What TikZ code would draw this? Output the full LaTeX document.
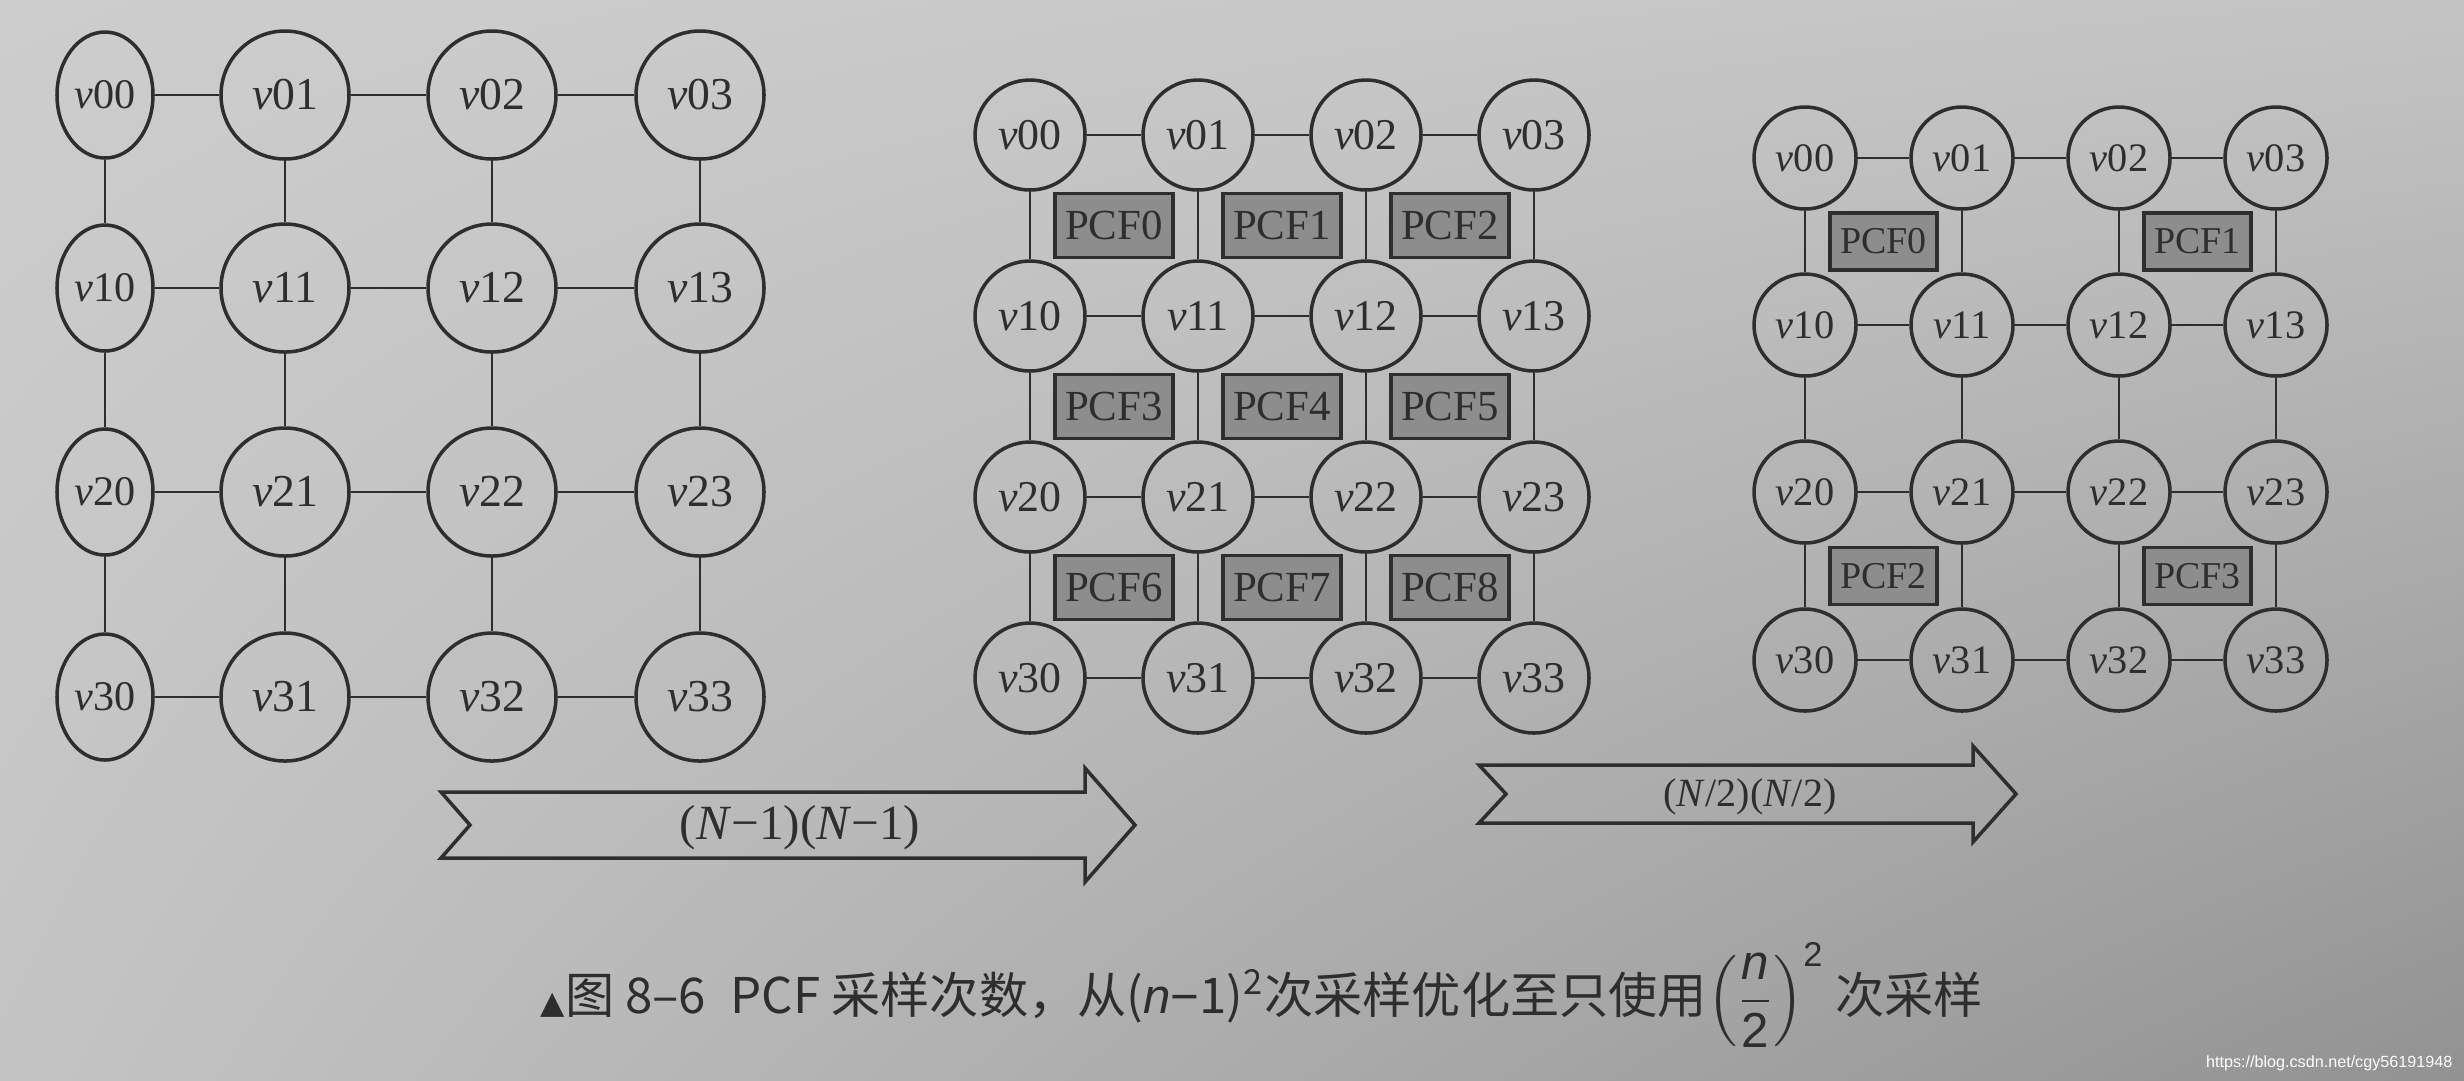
\documentclass[tikz,border=0pt]{standalone}
\usepackage{amsmath}
\usepackage{fontspec}
\setmainfont{Liberation Serif}
\newfontfamily\cjk{Noto Sans CJK SC}
\newfontfamily\lsans{Liberation Sans}
\newfontfamily\symf{DejaVu Sans}
\usepackage{tikz}
\usetikzlibrary{shapes.geometric,calc,shadings}
\definecolor{ink}{HTML}{2E2E2E}
\definecolor{pcfgray}{HTML}{8D8D8D}
\definecolor{paperul}{HTML}{CDCDCD}
\definecolor{paperur}{HTML}{C4C4C4}
\definecolor{paperll}{HTML}{C4C4C4}
\definecolor{paperlr}{HTML}{929292}

\begin{document}
\begin{tikzpicture}[x=0.1mm,y=-0.1mm,
	link/.style={ink,line width=0.8pt},
	vtxa/.style={circle,draw=ink,line width=1pt,inner sep=0pt,minimum size=12.8mm,text=ink,font=\fontsize{13pt}{15pt}\selectfont},
	vtxe/.style={ellipse,draw=ink,line width=1pt,inner sep=0pt,minimum width=9.6mm,minimum height=12.6mm,text=ink,font=\fontsize{12pt}{14pt}\selectfont},
	vtxb/.style={circle,draw=ink,line width=1pt,inner sep=0pt,minimum size=11mm,text=ink,font=\fontsize{12.5pt}{14pt}\selectfont},
	vtxc/.style={circle,draw=ink,line width=1pt,inner sep=0pt,minimum size=10.2mm,text=ink,font=\fontsize{11.5pt}{13pt}\selectfont},
	pcfb/.style={rectangle,draw=ink,fill=pcfgray,line width=0.9pt,inner sep=0pt,minimum width=11.8mm,minimum height=6.4mm,text=ink,font=\fontsize{12.2pt}{14pt}\selectfont},
	pcfc/.style={rectangle,draw=ink,fill=pcfgray,line width=0.9pt,inner sep=0pt,minimum width=10.7mm,minimum height=5.7mm,text=ink,font=\fontsize{10.8pt}{12pt}\selectfont},
	arrowbox/.style={draw=ink,line width=1pt,line join=miter}]
	\useasboundingbox (0,0) rectangle (2464,1080);
	\shade[upper left=paperul,upper right=paperur,lower left=paperll,lower right=paperlr]
	  (0,0) rectangle (2464,1080);

	% first grid, all samples
	\foreach \r/\y in {0/95,1/288,2/492,3/697}
	  \node[vtxe] (a\r0) at (105,\y) {\textit{v}\r0};
	\foreach \r/\y in {0/95,1/288,2/492,3/697}
	  \foreach \c/\x in {1/285,2/492,3/700}
	    \node[vtxa] (a\r\c) at (\x,\y) {\textit{v}\r\c};
	\foreach \r in {0,...,3}
	  \foreach \c/\d in {0/1,1/2,2/3}
	    \draw[link] (a\r\c) -- (a\r\d);
	\foreach \r/\s in {0/1,1/2,2/3}
	  \foreach \c in {0,...,3}
	    \draw[link] (a\r\c) -- (a\s\c);

	% second grid, (N-1)(N-1) pcf
	\foreach \r/\y in {0/135,1/316,2/497,3/678}
	  \foreach \c/\x in {0/1030,1/1198,2/1366,3/1534}
	    \node[vtxb] (b\r\c) at (\x,\y) {\textit{v}\r\c};
	\foreach \r in {0,...,3}
	  \foreach \c/\d in {0/1,1/2,2/3}
	    \draw[link] (b\r\c) -- (b\r\d);
	\foreach \r/\s in {0/1,1/2,2/3}
	  \foreach \c in {0,...,3}
	    \draw[link] (b\r\c) -- (b\s\c);
	\foreach \r/\s in {0/1,1/2,2/3}
	  \foreach \c/\d in {0/1,1/2,2/3}{
	    \pgfmathtruncatemacro\i{3*\r+\c}
	    \node[pcfb] (pb\i) at ($(b\r\c)!0.5!(b\s\d)$) {PCF\i};}

	% third grid, (N/2)(N/2) pcf
	\foreach \r/\y in {0/158,1/325,2/492,3/660}
	  \foreach \c/\x in {0/1805,1/1962,2/2119,3/2276}
	    \node[vtxc] (c\r\c) at (\x,\y) {\textit{v}\r\c};
	\foreach \r in {0,...,3}
	  \foreach \c/\d in {0/1,1/2,2/3}
	    \draw[link] (c\r\c) -- (c\r\d);
	\foreach \r/\s in {0/1,1/2,2/3}
	  \foreach \c in {0,...,3}
	    \draw[link] (c\r\c) -- (c\s\c);
	\foreach \i/\r/\c/\s/\d in {0/0/0/1/1,1/0/2/1/3,2/2/0/3/1,3/2/2/3/3}
	  \node[pcfc] (pc\i) at ($(c\r\c)!0.5!(c\s\d)$) {PCF\i};

	% arrows
	\draw[arrowbox] (441,792)--(1085,792)--(1085,768)--(1135,825)--(1085,882)--(1085,858)--(441,858)--(470,825)--cycle;
	\node[text=ink,font=\fontsize{14pt}{16pt}\selectfont] (cnt1) at (800,828) {(\textit{N}−1)(\textit{N}−1)};
	\draw[arrowbox] (1479,765)--(1973,765)--(1973,746)--(2016,794)--(1973,842)--(1973,823)--(1479,823)--(1506,794)--cycle;
	\node[text=ink,font=\fontsize{11.4pt}{13pt}\selectfont] (cnt2) at (1750,797) {(\textit{N}/2)(\textit{N}/2)};

	% caption
	\node[anchor=west,inner sep=0pt,text=ink,font=\cjk\fontsize{14pt}{17pt}\selectfont] (caption) at (540,995)
	  {{\symf\fontsize{9pt}{10pt}\selectfont ▲}图 8–6\hspace{0.5em}PCF 采样次数，从({\lsans\itshape n}{\lsans −}1)\textsuperscript{2}次采样优化至只使用$\left(\dfrac{\text{\lsans\itshape n}}{\text{\lsans 2}}\right)^{\text{\lsans 2}}$\ 次采样};
	\node[anchor=base east,inner sep=0pt,text=white,font=\lsans\fontsize{4.6pt}{5pt}\selectfont] (mark) at (2453,1067) {https://blog.csdn.net/cgy56191948};
\end{tikzpicture}
\end{document}
